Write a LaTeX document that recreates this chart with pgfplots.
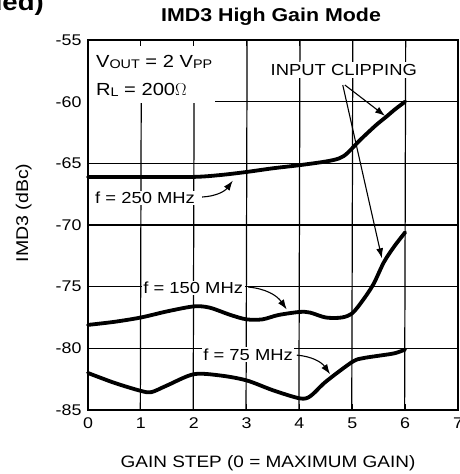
\documentclass[border=0pt]{standalone}
\usepackage{fontspec}
\setmainfont{Liberation Sans}[FakeStretch=1.15, BoldFeatures={FakeStretch=1.15}]
\usepackage{pgfplots}
\pgfplotsset{compat=1.18}
\usetikzlibrary{arrows.meta}
\newcommand{\lbl}{\fontsize{16}{18}\selectfont}
\newcommand{\sub}[1]{\raisebox{-1.6pt}{\fontsize{12.5}{13}\selectfont #1}}
\begin{document}
\begin{tikzpicture}
\begin{axis}[
  at={(88pt,-410pt)}, anchor=south west,
  scale only axis, width=370pt, height=370pt,
  xmin=0, xmax=7, ymin=-85, ymax=-55,
  xtick={0,1,2,3,4,5,6,7}, ytick={-85,-80,-75,-70,-65,-60,-55},
  xticklabels={0,1,2,3,4,5,6,7},
  yticklabels={-85,-80,-75,-70,-65,-60,-55},
  ymajorgrids=true,
  major grid style={black, line width=1.2pt},
  tick align=inside, major tick length=6pt,
  tick style={black, line width=1.2pt},
  axis line style={line width=2pt},
  ticklabel style={font=\fontsize{15.5}{17}\selectfont},
  xticklabel style={yshift=-4pt},
  yticklabel style={xshift=-3pt},
  clip=false,
]
\addplot[black, line width=3.8pt, smooth, tension=0.5, line join=round, line cap=round] coordinates {
 (0,-66.1) (1,-66.1) (2,-66.1) (2.5,-65.95) (3,-65.7) (3.5,-65.4) (4,-65.15) (4.5,-64.85)
 (4.75,-64.6) (4.9,-64.2) (5.15,-63.1) (5.45,-61.9) (5.65,-61.2) (5.8,-60.65) (6,-60.0)};
\addplot[black, line width=3.8pt, smooth, tension=0.5, line join=round, line cap=round] coordinates {
 (0,-78.1) (0.5,-77.85) (1,-77.5) (1.5,-77.0) (2,-76.6) (2.3,-76.7) (2.7,-77.3) (3,-77.65)
 (3.3,-77.65) (3.6,-77.3) (4,-77.05) (4.2,-77.1) (4.5,-77.5) (4.8,-77.5) (5,-77.15)
 (5.2,-76.1) (5.4,-74.8) (5.6,-73.0) (5.8,-71.7) (6,-70.6)};
\addplot[black, line width=3.8pt, smooth, tension=0.5, line join=round, line cap=round] coordinates {
 (0,-82.0) (0.5,-82.8) (1,-83.45) (1.2,-83.55) (1.5,-83.0) (2,-82.1) (2.5,-82.2) (3,-82.6)
 (3.5,-83.4) (4,-84.05) (4.2,-83.9) (4.5,-82.7) (5,-81.1) (5.2,-80.8) (5.5,-80.6) (5.8,-80.4) (6,-80.1)};
% vertical grid lines
\draw[black, line width=1.2pt] (axis cs:0.99,-85) -- (axis cs:1.01,-55);
\draw[black, line width=1.2pt] (axis cs:1.99,-85) -- (axis cs:2.01,-55);
\draw[black, line width=1.2pt] (axis cs:2.99,-85) -- (axis cs:3.01,-55);
\draw[black, line width=1.2pt] (axis cs:3.99,-85) -- (axis cs:4.01,-55);
\draw[black, line width=1.2pt] (axis cs:4.99,-85) -- (axis cs:5.01,-55);
\draw[black, line width=1.2pt] (axis cs:5.99,-85) -- (axis cs:6.01,-55);
% annotation box top-left
\fill[white] (axis cs:0.02,-55.1) rectangle (axis cs:2.4,-60.12);
\draw[line width=1.2pt] (axis cs:1,-55) -- ++(0pt,-6pt);
\draw[line width=1.2pt] (axis cs:2,-55) -- ++(0pt,-6pt);
\node[anchor=base west, inner sep=0pt] at (axis cs:0.15,-57.19) {\fontsize{17.5}{19}\selectfont V\sub{OUT} = 2 V\sub{PP}};
\node[anchor=base west, inner sep=0pt] at (axis cs:0.15,-59.46) {\fontsize{17.5}{19}\selectfont R\sub{L} = 200\(\Omega\)};
% labels
\node[fill=white, inner sep=1.5pt] at (axis cs:1.08,-67.8) {\lbl f = 250 MHz};
\node[fill=white, inner sep=1.5pt] at (axis cs:1.99,-75.1) {\lbl f = 150 MHz};
\node[fill=white, inner sep=1.5pt] at (axis cs:3.03,-80.5) {\lbl f = 75 MHz};
\node[fill=white, inner sep=2pt] at (axis cs:4.84,-57.43) {\lbl INPUT CLIPPING};
\draw[line width=1.2pt] (axis cs:4,-55) -- ++(0pt,-6pt);
\draw[line width=1.2pt] (axis cs:5,-55) -- ++(0pt,-6pt);
% arrows
\draw[line width=1.1pt, -{Latex[length=10pt,width=7pt]}] (axis cs:2.16,-67.73) to[bend right=25] (axis cs:2.74,-66.4);
\draw[line width=1.1pt, -{Latex[length=10pt,width=7pt]}] (axis cs:3.03,-75.03) to[bend left=25] (axis cs:3.76,-76.85);
\draw[line width=1.1pt, -{Latex[length=10pt,width=7pt]}] (axis cs:3.95,-80.55) to[bend left=25] (axis cs:4.58,-82.1);
\draw[line width=1.1pt, -{Latex[length=10pt,width=7pt]}] (axis cs:4.86,-58.65) -- (axis cs:5.62,-61.15);
\draw[line width=1.1pt, -{Latex[length=10pt,width=7pt]}] (axis cs:4.82,-58.65) -- (axis cs:5.56,-72.7);
\end{axis}
\node[font=\bfseries\fontsize{18.6}{20}\selectfont, anchor=base] at (271pt,-21.7pt) {IMD3 High Gain Mode};
\node[font=\fontsize{16.5}{19}\selectfont, anchor=base] at (268pt,-467pt) {GAIN STEP (0 = MAXIMUM GAIN)};
\node[font=\fontsize{17}{19}\selectfont, anchor=base, rotate=90] at (28pt,-213pt) {IMD3 (dBc)};
\node[font=\bfseries\fontsize{24}{26}\selectfont, anchor=base east, inner sep=0pt] at (44pt,-10pt) {(continued)};
\pgfresetboundingbox
\useasboundingbox (0pt,0pt) rectangle (460pt,-474pt);
\end{tikzpicture}
\end{document}
